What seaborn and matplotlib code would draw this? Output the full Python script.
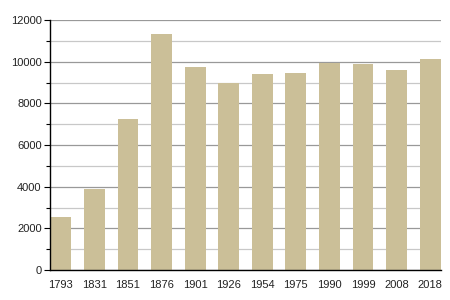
import matplotlib
matplotlib.use("Agg")
import matplotlib.pyplot as plt
import seaborn as sns
import pandas as pd
from matplotlib.ticker import MultipleLocator

years = ["1793", "1831", "1851", "1876", "1901", "1926", "1954", "1975", "1990", "1999", "2008", "2018"]
population = [2560, 3890, 7250, 11330, 9730, 8960, 9410, 9460, 9920, 9910, 9600, 10130]

sns.set_theme(style="white")
plt.rcParams['font.family'] = ['Liberation Sans', 'DejaVu Sans']

df = pd.DataFrame({"year": years, "pop": population})

fig = plt.figure(figsize=(4.5, 3), dpi=100)
ax = fig.add_axes([50/450, 30/300, 391/450, 250/300])

ax.set_axisbelow(True)
ax.yaxis.set_major_locator(MultipleLocator(2000))
ax.yaxis.set_minor_locator(MultipleLocator(1000))
ax.grid(which="major", axis="y", color="#999999", linewidth=0.9)
ax.grid(which="minor", axis="y", color="#c8c8c8", linewidth=0.9)

sns.barplot(data=df, x="year", y="pop", color="#cbbf98", saturation=1, width=0.62,
            linewidth=0, ax=ax)

ax.set_ylim(0, 12000)
ax.set_xlim(-0.32, len(years) - 1 + 0.32)
ax.set_xlabel("")
ax.set_ylabel("")

for s in ["top", "right"]:
    ax.spines[s].set_visible(False)
for s in ["left", "bottom"]:
    ax.spines[s].set_color("black")
    ax.spines[s].set_linewidth(1.0)

ax.tick_params(axis="y", which="major", left=True, length=4, width=0.8, color="black", labelsize=8, pad=2, labelcolor="#222222")
ax.tick_params(axis="y", which="minor", left=True, length=3, width=0.8, color="black")
ax.tick_params(axis="x", bottom=False, labelsize=8, pad=1, labelcolor="#222222")

fig.savefig("out.png", dpi=100, facecolor="white")
